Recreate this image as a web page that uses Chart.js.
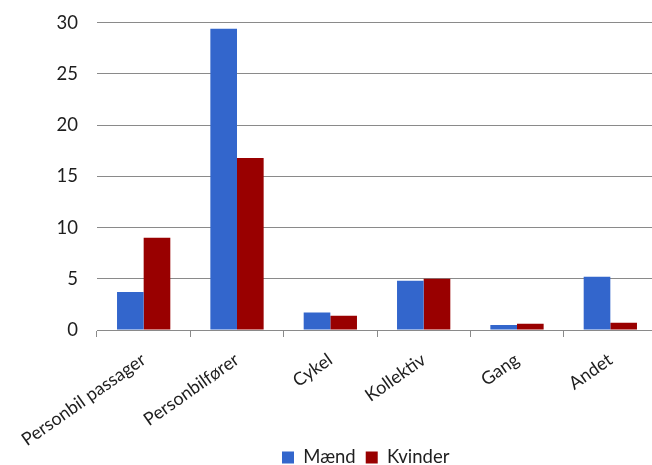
<!DOCTYPE html>
<html>
<head>
<meta charset="utf-8">
<script src="https://cdn.jsdelivr.net/npm/chart.js@4/dist/chart.umd.min.js"></script>
<style>
  html, body { margin: 0; padding: 0; background: #fff; overflow: hidden; }
  #wrap { width: 652px; height: 465px; overflow: hidden; }
  canvas { display: block; }
</style>
</head>
<body>
<div id="wrap"><canvas id="c" width="660" height="465"></canvas></div>
<script>
// Transport mode shares by gender (%)
const categories = ['Personbil passager', 'Personbilfører', 'Cykel', 'Kollektiv', 'Gang', 'Andet'];
const maend   = [3.7, 29.4, 1.7, 4.8, 0.5, 5.2];
const kvinder = [9.0, 16.8, 1.4, 5.0, 0.6, 0.7];
const seriesNames = ['Mænd', 'Kvinder'];

const FONT = { family: 'Lato, "Liberation Sans", sans-serif', size: 18.5 };
const XFONT = { family: 'Lato, "Liberation Sans", sans-serif', size: 18 };
const TEXT = '#1e1e1e';
const GRID = '#8a8a8a';

// Legend row sits under the slanted labels; the label strip may use the full height
const layoutTweaks = {
  id: 'layoutTweaks',
  afterLayout(chart) {
    const x = chart.scales.x;
    x.bottom = chart.height;
    const lg = chart.legend;
    if (!lg) return;
    const pad = lg.options.labels.padding;
    const w = lg.right - lg.left;
    const h = lg.bottom - lg.top;
    lg.left = 282 - pad;
    lg.right = lg.left + w;
    lg.top = 457.5 - pad - FONT.size / 2;
    lg.bottom = lg.top + h;
  }
};

new Chart(document.getElementById('c'), {
  type: 'bar',
  data: {
    labels: categories,
    datasets: [
      { label: seriesNames[0], data: maend, backgroundColor: '#3366CC' },
      { label: seriesNames[1], data: kvinder, backgroundColor: '#990000' }
    ]
  },
  options: {
    responsive: false,
    animation: false,
    devicePixelRatio: 1,
    layout: { padding: { top: 22.7, right: 3, left: 0, bottom: 0 } },
    datasets: { bar: { categoryPercentage: 0.571, barPercentage: 1.0 } },
    plugins: {
      legend: {
        position: 'bottom',
        align: 'start',
        labels: { boxWidth: 12, boxHeight: 12, padding: 10, color: TEXT, font: FONT }
      },
      tooltip: { enabled: false }
    },
    scales: {
      x: {
        grid: { offset: true, drawOnChartArea: false, drawTicks: true, tickLength: 7, color: GRID, lineWidth: 1 },
        border: { display: true, color: GRID, width: 1 },
        ticks: { color: TEXT, font: XFONT, minRotation: 35, maxRotation: 35, padding: 12, autoSkip: false },
        afterFit(scale) { scale.height = 96.5; }
      },
      y: {
        min: 0, max: 30,
        grid: { color: GRID, lineWidth: 1, drawTicks: true, tickLength: 19, tickColor: 'rgba(0,0,0,0)' },
        border: { display: false },
        ticks: { stepSize: 5, color: TEXT, font: FONT, padding: 0 },
        afterFit(scale) { scale.width = 97; }
      }
    }
  },
  plugins: [layoutTweaks]
});
</script>
</body>
</html>
